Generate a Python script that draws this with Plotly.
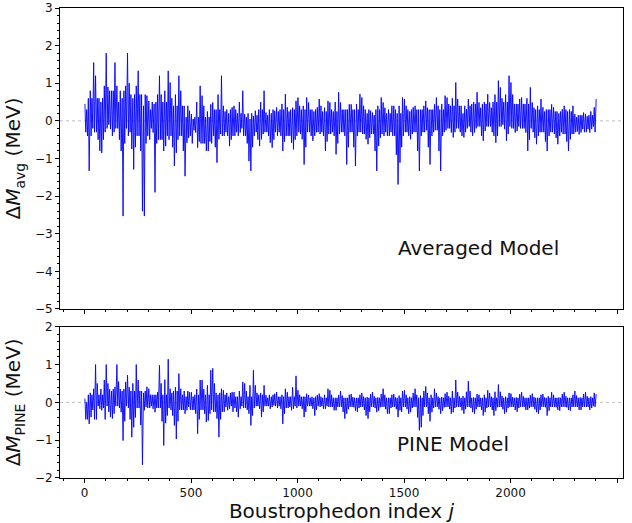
import plotly.graph_objects as go
from plotly.subplots import make_subplots

# Boustrophedon index bins (25 indices each); per-bin extreme and secondary excursions
BIN = 25
BLOCK = 100  # dense-core values are read per 100-index block
avg_hi = [0.45, 1.55, 1.2, 0.93, 1.8, 1.55, 0.93, 0.93, 1.8, 0.93,
          1.33, 0.67, 0.53, 0.7, 1.2, 1.33, 1.02, 1.2, 0.8, 0.27,
          0.18, 0.93, 0.67, 0.44, 0.49, 1.2, 0.4, 0.36, 0.4, 0.8,
          0.18, 0.13, 0.27, 0.8, 0.22, 0.27, 0.36, 0.71, 0.36, 0.53,
          0.62, 0.62, 0.49, 0.36, 0.58, 0.53, 0.49, 0.76, 0.49, 0.44,
          0.44, 0.71, 0.62, 0.27, 0.22, 0.62, 0.49, 0.4, 0.4, 0.62,
          0.58, 0.36, 0.4, 0.4, 0.53, 0.44, 0.62, 0.67, 0.62, 1.02,
          0.58, 0.31, 0.58, 0.76, 0.49, 0.71, 0.49, 1.07, 0.89, 1.2,
          1.02, 0.58, 0.62, 0.89, 0.49, 0.58, 0.36, 0.44, 0.36, 0.31,
          0.4, 0.4, 0.18, 0.22, 0.18, 0.36, 0.58]
avg_lo = [-1.33, -0.4, -0.8, -0.85, -0.22, -0.4, -0.8, -2.53, -0.75, -1.29,
          -2.4, -2.53, -0.31, -1.9, -0.8, -0.67, -1.2, -0.85, -1.47, -0.58,
          -0.31, -0.71, -0.8, -0.8, -1.11, -0.49, -0.4, -0.67, -0.4, -0.31,
          -1.07, -1.33, -0.67, -0.49, -0.58, -0.71, -0.4, -0.8, -0.58, -0.76,
          -0.49, -1.16, -0.53, -0.4, -0.4, -0.8, -0.4, -0.89, -0.4, -1.16,
          -1.2, -0.4, -0.49, -0.62, -1.33, -0.67, -0.4, -0.4, -1.69, -1.11,
          -0.4, -0.49, -1.33, -0.4, -1.16, -0.4, -1.33, -0.4, -0.31, -0.44,
          -0.4, -0.44, -0.4, -0.31, -0.53, -0.27, -0.4, -0.58, -0.22, -0.53,
          -0.31, -0.27, -0.31, -0.8, -0.62, -0.4, -0.8, -0.4, -0.62, -0.4,
          -0.8, -0.49, -0.36, -0.31, -0.31, -0.22, 0.04]
avg_mid_hi = [0.3, 0.8, 0.6, 0.5, 0.9, 0.8, 0.5, 0.6, 1.0, 0.6, 0.7, 0.4, 0.3, 0.45, 0.7, 0.8,
              0.6, 0.7, 0.4, 0.1, 0.05, 0.5, 0.4, 0.25,
              0.3, 0.7, 0.25, 0.2, 0.3, 0.5, 0.1, 0.05, 0.15, 0.5, 0.15, 0.2, 0.25, 0.45, 0.25, 0.35,
              0.4, 0.4, 0.3, 0.25, 0.4, 0.35, 0.3,
              0.5, 0.3, 0.3, 0.3, 0.45, 0.4, 0.2, 0.15, 0.4, 0.35, 0.3, 0.3, 0.4, 0.4, 0.25, 0.3,
              0.3, 0.35, 0.3, 0.4, 0.45, 0.45, 0.6,
              0.4, 0.2, 0.4, 0.5, 0.35, 0.5, 0.35, 0.7, 0.6, 0.7, 0.7, 0.45, 0.45, 0.6, 0.35, 0.4,
              0.25, 0.3, 0.25, 0.2, 0.3, 0.3, 0.1, 0.15, 0.12, 0.25, 0.4]
avg_mid_lo = [-0.4, -0.2, -0.5, -0.5, -0.1, -0.3, -0.5, -0.6, -0.3, -0.7, -0.8, -0.6, -0.2, -0.6, -0.5, -0.4,
              -0.7, -0.5, -0.8, -0.45, -0.25, -0.55, -0.6, -0.55,
              -0.7, -0.35, -0.3, -0.5, -0.3, -0.2, -0.6, -0.7, -0.5, -0.35, -0.4, -0.5, -0.3, -0.55,
              -0.4, -0.5, -0.35, -0.7, -0.4, -0.3, -0.3, -0.55, -0.3,
              -0.6, -0.3, -0.7, -0.7, -0.3, -0.35, -0.45, -0.8, -0.45, -0.3, -0.3, -0.9, -0.7, -0.3,
              -0.35, -0.8, -0.3, -0.7, -0.3, -0.8, -0.3, -0.2, -0.3,
              -0.3, -0.3, -0.3, -0.2, -0.4, -0.15, -0.3, -0.4, -0.1, -0.35, -0.2, -0.15, -0.2, -0.5,
              -0.45, -0.3, -0.55, -0.3, -0.45, -0.3, -0.55, -0.35, -0.28, -0.22, -0.22, -0.15, 0.0]
avg_core_hi = [0.6, 0.8, 0.7, 0.5, 0.4, 0.1, 0.3, 0.2, 0.3, 0.3, 0.3, 0.25, 0.3,
               0.3, 0.2, 0.3, 0.3, 0.4, 0.45, 0.5, 0.45, 0.3, 0.25, 0.15, 0.3]
avg_core_lo = [-0.3, -0.2, -0.4, -0.5, -0.4, -0.6, -0.4, -0.4, -0.3, -0.4, -0.3, -0.35, -0.3,
               -0.35, -0.4, -0.3, -0.25, -0.2, -0.15, -0.15, -0.2, -0.3, -0.35, -0.3, -0.1]

pine_hi = [0.1, 0.36, 1.0, 0.59, 1.0, 0.41, 1.0, 0.54, 0.72, 1.0,
           0.59, 0.41, 0.36, 0.27, 0.98, 1.14, 0.36, 0.76, 0.36, 0.27,
           0.27, 0.59, 0.59, 0.85, 0.9, 0.36, 0.32, 0.27, 0.27, 0.54,
           0.5, 0.85, 0.45, 0.45, 0.19, 0.23, 0.27, 0.36, 0.27, 0.7,
           0.32, 0.23, 0.19, 0.19, 0.23, 0.36, 0.32, 0.19, 0.3, 0.2,
           0.22, 0.2, 0.25, 0.22, 0.27, 0.22, 0.36, 0.2, 0.22, 0.3,
           0.32, 0.25, 0.36, 0.3, 0.42, 0.36, 0.25, 0.23, 0.27, 0.59,
           0.27, 0.28, 0.56, 0.22, 0.2, 0.32, 0.25, 0.47, 0.28, 0.25,
           0.23, 0.22, 0.27, 0.19, 0.23, 0.2, 0.22, 0.27, 0.2, 0.22,
           0.27, 0.2, 0.3, 0.22, 0.27, 0.25, 0.22]
pine_lo = [-0.57, -0.39, -0.17, -0.21, -0.39, -0.43, -0.26, -1.01, -0.92, -0.66,
           -1.65, -0.21, -0.17, -0.26, -1.14, -0.55, -0.61, -0.97, -0.3, -0.21,
           -0.3, -0.83, -0.52, -0.48, -0.43, -0.92, -0.21, -0.17, -0.39, -0.17,
           -0.3, -0.61, -0.17, -0.39, -0.17, -0.12, -0.17, -0.57, -0.21, -0.17,
           -0.17, -0.39, -0.17, -0.35, -0.17, -0.17, -0.21, -0.21, -0.43, -0.3,
           -0.22, -0.25, -0.35, -0.43, -0.26, -0.22, -0.3, -0.3, -0.39, -0.21,
           -0.3, -0.26, -0.74, -0.66, -0.5, -0.26, -0.3, -0.22, -0.3, -0.26,
           -0.21, -0.3, -0.26, -0.3, -0.35, -0.26, -0.35, -0.22, -0.3, -0.26,
           -0.2, -0.25, -0.2, -0.2, -0.26, -0.3, -0.35, -0.22, -0.2, -0.22,
           -0.2, -0.22, -0.2, -0.2, -0.2, -0.15, 0.22]
pine_mid_hi = [0.0, 0.25, 0.5, 0.35, 0.5, 0.3, 0.55, 0.3, 0.4, 0.5, 0.3, 0.25, 0.2, 0.2, 0.5, 0.6,
               0.25, 0.4, 0.2, 0.15, 0.15, 0.35, 0.35, 0.45, 0.5, 0.2, 0.2, 0.15, 0.15, 0.3, 0.3, 0.45,
               0.25, 0.25, 0.12, 0.15, 0.15, 0.2, 0.15, 0.4, 0.2, 0.15, 0.12, 0.12, 0.15, 0.2, 0.2, 0.12,
               0.18, 0.12, 0.14, 0.12, 0.15, 0.14, 0.16, 0.13, 0.2, 0.12,
               0.13, 0.18, 0.2, 0.15, 0.2, 0.18, 0.25, 0.2, 0.15, 0.14,
               0.16, 0.3, 0.16, 0.17, 0.3, 0.13, 0.12, 0.2, 0.15, 0.28,
               0.17, 0.15, 0.14, 0.13, 0.16, 0.12, 0.14, 0.12, 0.13, 0.16,
               0.12, 0.13, 0.16, 0.12, 0.18, 0.13, 0.16, 0.15, 0.15]
pine_mid_lo = [-0.45, -0.2, -0.1, -0.15, -0.25, -0.3, -0.15, -0.5, -0.45, -0.4, -0.6, -0.12, -0.1, -0.15,
               -0.5, -0.35,
               -0.35, -0.5, -0.2, -0.12, -0.2, -0.45, -0.3, -0.3, -0.25, -0.45, -0.12, -0.1, -0.25, -0.1,
               -0.2, -0.35,
               -0.1, -0.25, -0.1, -0.08, -0.1, -0.3, -0.12, -0.1, -0.1, -0.25, -0.1, -0.2, -0.1, -0.1,
               -0.12, -0.12,
               -0.25, -0.18, -0.13, -0.15, -0.2, -0.25, -0.15, -0.13, -0.18, -0.15,
               -0.18, -0.25, -0.18, -0.15, -0.4, -0.35, -0.3, -0.15, -0.18, -0.13,
               -0.18, -0.15, -0.12, -0.18, -0.15, -0.18, -0.2, -0.15, -0.2, -0.13,
               -0.18, -0.15, -0.12, -0.15, -0.12, -0.15, -0.18, -0.2, -0.13, -0.12,
               -0.13, -0.12, -0.13, -0.12, -0.12, -0.12, -0.12, -0.1, 0.0]
pine_core_hi = [0.2, 0.35, 0.3, 0.2, 0.3, 0.2, 0.25, 0.15, 0.2, 0.15, 0.15, 0.12, 0.12,
                0.12, 0.12, 0.12, 0.12, 0.12, 0.12, 0.12, 0.12, 0.12, 0.12, 0.12, 0.15]
pine_core_lo = [-0.45, -0.1, -0.15, -0.15, -0.2, -0.2, -0.25, -0.15, -0.1, -0.15, -0.1, -0.12, -0.12,
                -0.12, -0.12, -0.12, -0.12, -0.12, -0.12, -0.12, -0.12, -0.12, -0.12, -0.12, -0.05]

x_ticks = [0, 500, 1000, 1500, 2000, 2500]


def series(hi, lo, mhi, mlo, chi, clo):
    xs, ys = [], []
    per = BLOCK // BIN
    n = len(hi)
    for k in range(n):
        b = k // per
        if k % 2 == 0:
            vals = [hi[k], clo[b], mhi[k], mlo[k], chi[b], lo[k]]
        else:
            vals = [mhi[k], lo[k], chi[b], mlo[k], hi[k], clo[b]]
        if k == n - 1:
            vals = [hi[k]]
        for i, v in enumerate(vals):
            xs.append(k * BIN + 2 + i * 4)
            ys.append(v)
    return xs, ys


fig = make_subplots(rows=2, cols=1, shared_xaxes=False, vertical_spacing=0.03)

xa, ya = series(avg_hi, avg_lo, avg_mid_hi, avg_mid_lo, avg_core_hi, avg_core_lo)
xp, yp = series(pine_hi, pine_lo, pine_mid_hi, pine_mid_lo, pine_core_hi, pine_core_lo)
fig.add_trace(go.Scatter(x=xa, y=ya, mode="lines", line=dict(color="#0000ff", width=0.9),
                         showlegend=False, hoverinfo="skip"), row=1, col=1)
fig.add_trace(go.Scatter(x=xp, y=yp, mode="lines", line=dict(color="#0000ff", width=0.9),
                         showlegend=False, hoverinfo="skip"), row=2, col=1)

font = "DejaVu Sans"
xr = [-115, 2528]
common_x = dict(range=xr, tickvals=x_ticks, showgrid=False, zeroline=False, automargin=False,
                showline=True, linecolor="black", linewidth=1, mirror=True,
                ticks="outside", ticklen=4, tickcolor="black",
                minor=dict(dtick=100, tick0=0, ticks="outside", ticklen=2, tickcolor="black"),
                tickfont=dict(family=font, size=12, color="#111"))
fig.update_xaxes(**common_x, showticklabels=False, row=1, col=1)
fig.update_xaxes(**common_x, showticklabels=True, row=2, col=1,
                 title=dict(text="Boustrophedon index <i>j</i>", font=dict(family=font, size=20, color="#111"),
                            standoff=2))

common_y = dict(showgrid=False, zeroline=False, showline=True, linecolor="black", linewidth=1,
                mirror=True, ticks="outside", ticklen=4, tickcolor="black", automargin=False,
                minor=dict(dtick=0.2, ticks="outside", ticklen=2, tickcolor="black"),
                tickfont=dict(family=font, size=12, color="#111"), dtick=1)
fig.update_yaxes(**common_y, range=[-5, 3], row=1, col=1,
                 title=dict(text="Δ<i>M</i><sub>avg</sub> (MeV)", font=dict(family=font, size=20, color="#111"),
                            standoff=8))
fig.update_yaxes(**common_y, range=[-2, 2], row=2, col=1,
                 title=dict(text="Δ<i>M</i><sub>PINE</sub> (MeV)", font=dict(family=font, size=20, color="#111"),
                            standoff=8))

fig.update_layout(
    width=632, height=523, margin=dict(l=60, r=9, t=8, b=45, autoexpand=False),
    paper_bgcolor="white", plot_bgcolor="white",
    xaxis=dict(domain=[0, 1]), yaxis=dict(domain=[0.3596, 1.0]),
    xaxis2=dict(domain=[0, 1]), yaxis2=dict(domain=[0.0, 0.3219]),
)

for ax in ["", "2"]:
    fig.add_shape(type="line", xref=f"x{ax} domain", yref=f"y{ax}", x0=0, x1=1, y0=0, y1=0,
                  line=dict(color="#b0b0b0", width=0.8, dash="dot"), layer="below")

fig.add_annotation(text="Averaged Model", x=1848, y=-3.38, xref="x", yref="y", showarrow=False,
                   font=dict(family=font, size=20, color="#111"))
fig.add_annotation(text="PINE Model", x=1731, y=-1.09, xref="x2", yref="y2", showarrow=False,
                   font=dict(family=font, size=20, color="#111"))

fig.write_html("out.html", config={"displayModeBar": False},
               post_script="document.body.style.margin='0';document.body.style.overflow='hidden';")
